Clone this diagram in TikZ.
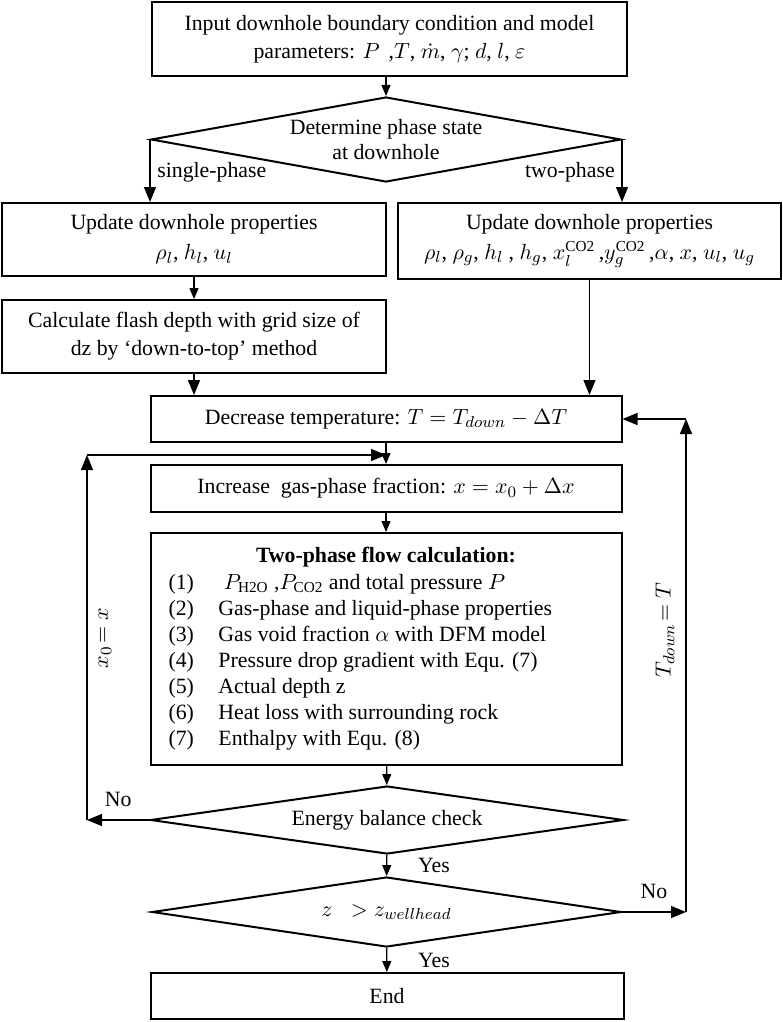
\documentclass[tikz,border=0pt]{standalone}
\usepackage{fontspec}
\setmainfont{Liberation Serif}
\usepackage{amsmath}
\usetikzlibrary{shapes.geometric}
\usetikzlibrary{arrows.meta}

\begin{document}
\begin{tikzpicture}[x=0.5pt,y=-0.5pt,
  font=\fontsize{10.9}{14}\selectfont,
  box/.style={draw,line width=1pt,align=center,inner sep=0pt},
  decision/.style={draw,line width=1pt,diamond,aspect=5.5,inner sep=0pt,align=center},
  big/.style={line width=0.65pt,-{Triangle[length=7.5pt,width=6pt]}},
  small/.style={line width=0.65pt,-{Triangle[length=5.5pt,width=4.5pt]}}]
  \useasboundingbox (0,0) rectangle (782,1022);
  \node[box,minimum width=237.5pt,minimum height=37pt] (input) at (389.5,39)
    {Input downhole boundary condition and model\\parameters: $P$\, ,$T$, $\dot{m}$, $\gamma$; $d$, $l$, $\varepsilon$};
  \node[decision,minimum width=235pt,minimum height=42.5pt,font=\fontsize{10.9}{12.5}\selectfont] (phase) at (386,139.5)
    {Determine phase state\\at downhole};
  \node[box,minimum width=192pt,minimum height=36.5pt,font=\fontsize{10.9}{15}\selectfont] (upd1) at (194,239.5)
    {Update downhole properties\\$\rho_l$, $h_l$, $u_l$};
  \node[box,minimum width=191.5pt,minimum height=38pt,font=\fontsize{10.9}{15}\selectfont] (upd2) at (589.5,241)
    {Update downhole properties\\$\rho_l$, $\rho_g$, $h_l$ , $h_g$, $x_l^{\mathrm{CO2}}$\,,$y_g^{\mathrm{CO2}}$\,,$\alpha$, $x$, $u_l$, $u_g$};
  \node[box,minimum width=192pt,minimum height=36.5pt] (flash) at (194,336.5)
    {Calculate flash depth with grid size of\\dz by ‘down-to-top’ method};
  \node[box,minimum width=235.5pt,minimum height=23pt] (decr) at (386,419)
    {Decrease temperature: $T=T_{down}-\Delta T$};
  \node[box,minimum width=235.5pt,minimum height=23.5pt] (incr) at (386,488.5)
    {Increase\ \ gas-phase fraction: $x=x_0+\Delta x$};
  \node[box,minimum width=235.5pt,minimum height=116pt,font=\fontsize{10.9}{13}\selectfont] (calc) at (386,649)
    {\begin{tabular}{@{}p{25pt}@{}p{192.5pt}@{}}
      \multicolumn{2}{@{}c@{}}{\textbf{Two-phase flow calculation:}}\\[0.5pt]
      (1) & \ $P_{\mathrm{H2O}}$ ,$P_{\mathrm{CO2}}$ and total pressure $P$\\
      (2) & Gas-phase and liquid-phase properties\\
      (3) & Gas void fraction $\alpha$ with DFM model\\
      (4) & Pressure drop gradient with Equ. (7)\\
      (5) & Actual depth z\\
      (6) & Heat loss with surrounding rock\\
      (7) & Enthalpy with Equ. (8)
    \end{tabular}};
  \node[decision,minimum width=236.5pt,minimum height=34pt] (energy) at (387,820)
    {Energy balance check};
  \node[decision,minimum width=234.5pt,minimum height=35pt] (check) at (386.5,912)
    {$z\;\;>z_{wellhead}$};
  \node[box,minimum width=236.5pt,minimum height=23pt] (stop) at (387,996) {End};
  \node[rotate=90] (xreset) at (105,638) {$x_0\!=x$};
  \node[rotate=90] (treset) at (665,630) {$T_{down}\!=T$};

  \coordinate (lcorner) at (87,820);
  \coordinate (ltop) at (87,455);
  \coordinate (rcorner) at (686,912);
  \coordinate (rtop) at (686,419);

  \draw[small] (phase.north |- input.south) -- (phase.north);
  \draw[big] (phase.west) -- (phase.west |- upd1.north) node[pos=0.52,right] (single) {single-phase};
  \draw[big] (phase.east) -- (phase.east |- upd2.north) node[pos=0.52,left] (two) {two-phase};
  \draw[small] (upd1) -- (flash);
  \draw[big] (flash) -- (flash |- decr.north);
  \draw[big] (upd2) -- (upd2 |- decr.north);
  \draw[small] (decr) -- (incr);
  \draw[small] (incr) -- (calc);
  \draw[small] (calc) -- (energy);
  \draw[small] (energy) -- (check) node[midway,anchor=west,xshift=12pt] (yes1) {Yes};
  \draw[small] (check) -- (stop) node[midway,anchor=west,xshift=12pt] (yes2) {Yes};
  \draw[big] (energy.west) -- (lcorner) node[midway,above=3pt] (no1) {No};
  \draw[big] (lcorner) -- (ltop);
  \draw[big] (ltop) -- (ltop -| incr.north);
  \draw[big] (check.east) -- (rcorner) node[midway,above=3pt] (no2) {No};
  \draw[big] (rcorner) -- (rtop);
  \draw[big] (rtop) -- (decr.east);
\end{tikzpicture}
\end{document}
